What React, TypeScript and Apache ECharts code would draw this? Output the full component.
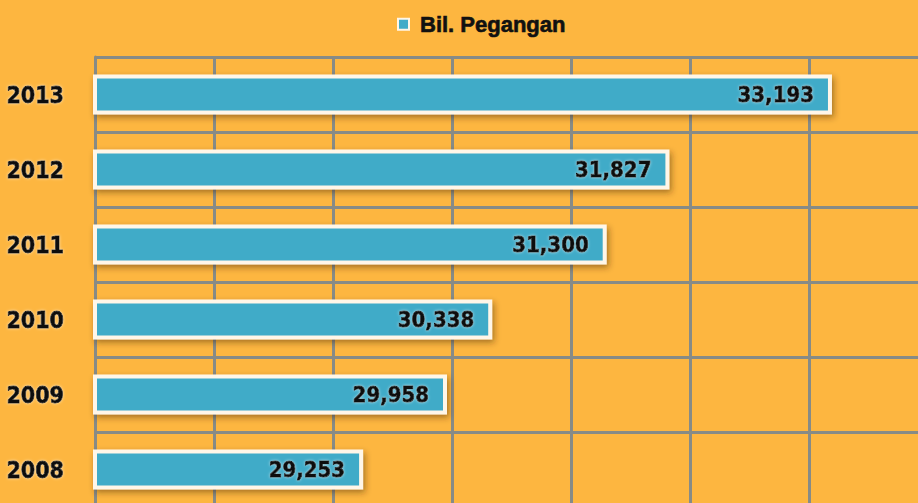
import React, { useEffect, useRef } from "react";
import * as echarts from "echarts";

const years = ["2008", "2009", "2010", "2011", "2012", "2013"];
const pegangan = [29253, 29958, 30338, 31300, 31827, 33193];
const seriesName = "Bil. Pegangan";

const BG = "#FDB640";
const BAR = "#41ABC8";
const GRID = "#878B86";
const NARROW = "'DejaVu Sans Condensed', 'DejaVu Sans', sans-serif";

export default function App() {
  const ref = useRef<HTMLDivElement>(null);
  useEffect(() => {
    if (!ref.current) return;
    const chart = echarts.init(ref.current, undefined, { renderer: "svg" });
    chart.setOption({
      animation: false,
      backgroundColor: BG,
      legend: {
        top: 8,
        left: 392,
        icon: "rect",
        itemWidth: 11,
        itemHeight: 11,
        itemGap: 10,
        itemStyle: { borderColor: "#FFF6E8", borderWidth: 2 },
        textStyle: {
          fontFamily: "'Liberation Sans', Arial, sans-serif",
          fontWeight: "bold",
          fontSize: 22,
          color: "#111",
          textBorderColor: "#111",
          textBorderWidth: 0.6,
          padding: [0, 0, 0, 6],
        },
        data: [seriesName],
      },
      grid: {
        left: 95,
        top: 57,
        width: 833,
        height: 450,
        containLabel: false,
        outerBoundsMode: "none",
      },
      xAxis: {
        type: "value",
        min: 27000,
        max: 34000,
        interval: 1000,
        axisLabel: { show: false },
        axisLine: { show: false },
        axisTick: { show: false },
        splitLine: { show: true, lineStyle: { color: GRID, width: 3 } },
      },
      yAxis: {
        type: "category",
        data: years,
        axisLine: { show: true, lineStyle: { color: GRID, width: 3 } },
        axisTick: { show: false },
        splitLine: { show: true, lineStyle: { color: GRID, width: 3 } },
        axisLabel: {
          margin: 31,
          fontFamily: NARROW,
          fontWeight: "bold",
          fontSize: 23,
          color: "#111",
          textBorderColor: "#111",
          textBorderWidth: 0.8,
          textShadowColor: "rgba(255,255,255,0.6)",
          textShadowBlur: 3,
        },
      },
      series: [
        {
          name: seriesName,
          type: "bar",
          data: pegangan,
          barWidth: 40,
          itemStyle: {
            color: BAR,
            borderColor: "#FFF6E8",
            borderWidth: 4,
            shadowColor: "rgba(60,40,0,0.45)",
            shadowBlur: 6,
            shadowOffsetX: 2,
            shadowOffsetY: 3,
          },
          label: {
            show: true,
            position: "insideRight",
            distance: 18,
            formatter: (p: any) => Number(p.value).toLocaleString("en-US"),
            fontFamily: NARROW,
            fontWeight: "bold",
            fontSize: 22,
            color: "#111",
            textBorderColor: "#111",
            textBorderWidth: 0.8,
            textShadowColor: "rgba(255,255,255,0.6)",
            textShadowBlur: 3,
          },
        },
      ],
    });
    return () => chart.dispose();
  }, []);
  return <div ref={ref} style={{ width: 918, height: 503, position: "fixed", left: 0, top: 0 }} />;
}
